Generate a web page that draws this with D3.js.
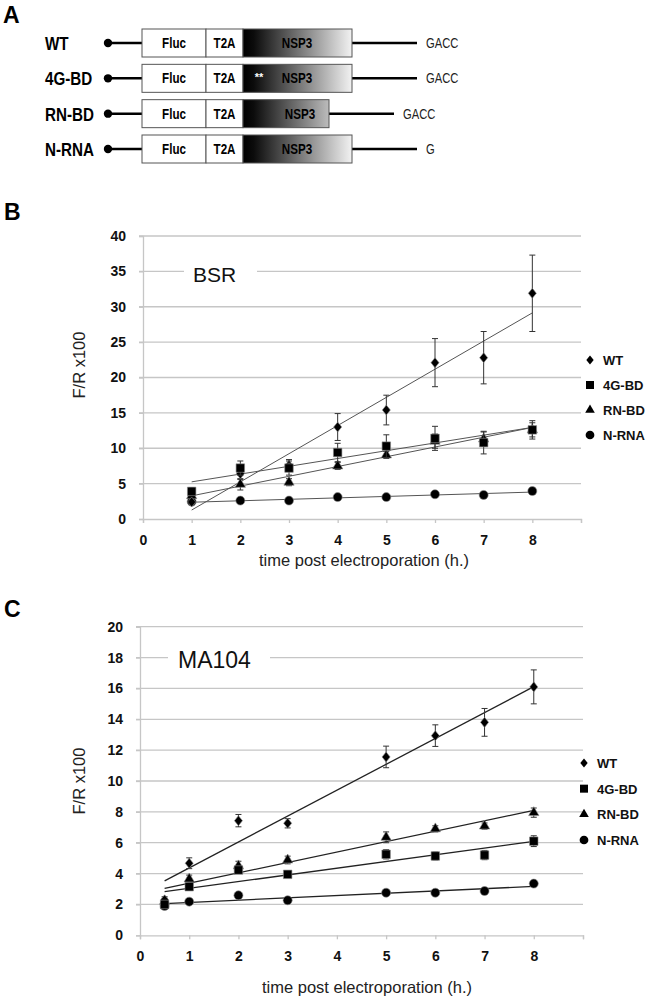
<!DOCTYPE html>
<html><head><meta charset="utf-8">
<script src="https://cdn.jsdelivr.net/npm/d3@7"></script>
<style>body{margin:0;background:#fff}svg{display:block}</style>
</head><body>
<script>
// ---------- Panel A data ----------
const constructs = ["WT", "4G-BD", "RN-BD", "N-RNA"];
const tails = ["GACC", "GACC", "GACC", "G"];
const nsp3Truncated = [false, false, true, false];
const nsp3Mutated = [false, true, false, false];
const segments = ["Fluc", "T2A", "NSP3"];

// ---------- Panel B data (BSR) ----------
const seriesNames = ["WT", "4G-BD", "RN-BD", "N-RNA"];
const bsrTimes = [1, 2, 3, 4, 5, 6, 7, 8];
const bsrWT   = [2.4, 6.4, 7.6, 13.0, 15.4, 22.1, 22.8, 31.9];
const bsr4G   = [3.9, 7.2, 7.2, 9.4, 10.3, 11.4, 10.8, 12.6];
const bsrRN   = [3.3, 4.9, 5.2, 7.5, 9.05, 11.0, 11.3, 12.6];
const bsrN    = [2.45, 2.6, 2.6, 3.1, 3.1, 3.5, 3.4, 3.95];
const bsrWTerr = [0.4, 0.8, 0.8, 1.9, 2.1, 3.4, 3.7, 5.4];
const bsr4Gerr = [0.5, 1.0, 1.0, 1.3, 1.6, 1.7, 1.6, 1.3];
const bsrRNerr = [0.3, 0.8, 0.5, 0.5, 0.5, 1.0, 1.0, 1.0];
const bsrNerr  = [0.2, 0.2, 0.2, 0.2, 0.2, 0.3, 0.3, 0.4];
const bsrYTicks = [0, 5, 10, 15, 20, 25, 30, 35, 40];

// ---------- Panel C data (MA104) ----------
const maTimes = [0.5, 1, 2, 3, 5, 6, 7, 8];
const maWT  = [2.3, 4.67, 7.43, 7.26, 11.56, 12.94, 13.8, 16.1];
const ma4G  = [2.0, 3.15, 4.23, 3.95, 5.25, 5.14, 5.2, 6.1];
const maRN  = [2.2, 3.65, 4.5, 4.88, 6.35, 6.9, 7.08, 7.95];
const maN   = [1.9, 2.18, 2.59, 2.27, 2.76, 2.76, 2.87, 3.35];
const maWTerr = [0.2, 0.35, 0.4, 0.3, 0.7, 0.7, 0.9, 1.1];
const ma4Gerr = [0.1, 0.2, 0.2, 0.2, 0.3, 0.25, 0.3, 0.35];
const maRNerr = [0.2, 0.25, 0.3, 0.25, 0.35, 0.2, 0.2, 0.3];
const maNerr  = [0.15, 0.1, 0.1, 0.1, 0.1, 0.1, 0.1, 0.1];
const maYTicks = [0, 2, 4, 6, 8, 10, 12, 14, 16, 18, 20];

const xTicks = [0, 1, 2, 3, 4, 5, 6, 7, 8, 9];
const xTickLabels = ["0", "1", "2", "3", "4", "5", "6", "7", "8", ""];
const yLabel = "F/R x100";
const xLabel = "time post electroporation (h.)";

// ---------- drawing ----------
const W = 649, H = 1005;
const svg = d3.select("body").append("svg").attr("width", W).attr("height", H);
const defs = svg.append("defs");
const sans = "'Liberation Sans',Arial,sans-serif";

// condensed text helper (narrow face emulated by horizontal scaling)
function narrowText(g, x, y, t, opts) {
  return g.append("text").attr("transform", `translate(${x},${y}) scale(0.8,1)`)
    .attr("text-anchor", opts.anchor || "start").text(t)
    .attr("font-family", sans).attr("font-weight", opts.weight || "normal")
    .attr("font-size", opts.size).attr("fill", opts.fill || "#000");
}

// Panel letters
[["A", 3, 23], ["B", 4, 220], ["C", 4, 617]].forEach(([t, x, y]) =>
  svg.append("text").attr("x", x).attr("y", y).text(t)
    .attr("font-family", sans).attr("font-weight", "bold").attr("font-size", 23));

// ---------- Panel A ----------
const grad = defs.append("linearGradient").attr("id", "nspGrad")
  .attr("gradientUnits", "userSpaceOnUse").attr("x1", 243).attr("x2", 352).attr("y1", 0).attr("y2", 0);
grad.append("stop").attr("offset", 0).attr("stop-color", "#000");
grad.append("stop").attr("offset", 0.1).attr("stop-color", "#0c0c0c");
grad.append("stop").attr("offset", 1).attr("stop-color", "#f2f2f2");

const rowScale = d3.scalePoint().domain(constructs).range([43, 149]);
const segX = d3.scaleOrdinal().domain(segments).range([142, 206, 243]);
const boxEnd = 352, boxEndShort = 329, boxH = 28;

constructs.forEach((c, i) => {
  const cy = rowScale(c);
  const g = svg.append("g");
  const end = nsp3Truncated[i] ? boxEndShort : boxEnd;
  narrowText(g, 45, cy + 7, c, { weight: "bold", size: 19 });
  g.append("line").attr("x1", 108).attr("x2", segX("Fluc")).attr("y1", cy).attr("y2", cy)
    .attr("stroke", "#000").attr("stroke-width", 2.5);
  g.append("circle").attr("cx", 108).attr("cy", cy).attr("r", 4.2).attr("fill", "#000");
  g.append("line").attr("x1", end).attr("x2", end + 65).attr("y1", cy).attr("y2", cy)
    .attr("stroke", "#000").attr("stroke-width", 2.5);
  narrowText(g, end + 74, cy + 5, tails[i], { size: 14, fill: "#222" });
  const bounds = [segX("Fluc"), segX("T2A"), segX("NSP3"), end];
  segments.forEach((s, k) => {
    g.append("rect").attr("x", bounds[k]).attr("y", cy - boxH / 2)
      .attr("width", bounds[k + 1] - bounds[k]).attr("height", boxH)
      .attr("fill", s === "NSP3" ? "url(#nspGrad)" : "#fff")
      .attr("stroke", "#555").attr("stroke-width", 1);
    const tx = s === "NSP3" ? (nsp3Truncated[i] ? 300 : 297) : (bounds[k] + bounds[k + 1]) / 2;
    narrowText(g, tx, cy + 5, s, { anchor: "middle", weight: "bold", size: 14.5 });
  });
  if (nsp3Mutated[i]) {
    g.append("text").attr("x", 259).attr("y", cy + 3).attr("text-anchor", "middle").text("**")
      .attr("font-family", sans).attr("font-weight", "bold").attr("font-size", 11).attr("fill", "#fff");
  }
});

// ---------- charts ----------
const diamond = { draw(ctx, size) { const r = Math.sqrt(size / 2); ctx.moveTo(0, -r * 1.12); ctx.lineTo(r * 0.9, 0); ctx.lineTo(0, r * 1.12); ctx.lineTo(-r * 0.9, 0); ctx.closePath(); } };
const symbols = [diamond, d3.symbolSquare, d3.symbolTriangle, d3.symbolCircle];
const symSizes = [40, 72, 46, 64];
const legSizes = [34, 64, 40, 60];

function regression(xs, ys) {
  const mx = d3.mean(xs), my = d3.mean(ys);
  let sxy = 0, sxx = 0;
  xs.forEach((x, i) => { sxy += (x - mx) * (ys[i] - my); sxx += (x - mx) * (x - mx); });
  const b = sxy / sxx;
  return x => my + b * (x - mx);
}

function drawChart(cfg) {
  const x = d3.scaleLinear().domain([0, 9]).range([cfg.left, cfg.right]);
  const y = d3.scaleLinear().domain([0, cfg.yMax]).range([cfg.bottom, cfg.top]);
  const g = svg.append("g");
  g.selectAll(".grid").data(cfg.yTicks.filter(v => v > 0)).join("line")
    .attr("x1", cfg.left - 4).attr("x2", cfg.right).attr("y1", d => y(d)).attr("y2", d => y(d))
    .attr("stroke", "#c6c6c6").attr("stroke-width", 1.3);
  const ya = g.append("g").attr("transform", `translate(${cfg.left},0)`)
    .call(d3.axisLeft(y).tickValues(cfg.yTicks).tickSize(4).tickPadding(13));
  ya.select(".domain").attr("stroke", "#c6c6c6").attr("stroke-width", 1.3);
  ya.selectAll(".tick line").attr("stroke", "#c6c6c6").attr("stroke-width", 1.3);
  ya.selectAll("text").attr("font-family", sans).attr("font-weight", "bold")
    .attr("font-size", 14).attr("fill", "#111");
  const xa = g.append("g").attr("transform", `translate(0,${cfg.bottom})`)
    .call(d3.axisBottom(x).tickValues(xTicks).tickFormat((d, i) => xTickLabels[i]).tickSize(4).tickPadding(cfg.xPad));
  xa.select(".domain").attr("stroke", "#c6c6c6").attr("stroke-width", 1.3);
  xa.selectAll(".tick line").attr("stroke", "#c6c6c6").attr("stroke-width", 1.3);
  xa.selectAll("text").attr("font-family", sans).attr("font-weight", "bold")
    .attr("font-size", 14).attr("fill", "#111");
  g.append("text").attr("transform", `translate(85,${cfg.yTitleY}) rotate(-90)`)
    .attr("text-anchor", "middle").text(yLabel)
    .attr("font-family", sans).attr("font-size", 16.5).attr("fill", "#222");
  g.append("text").attr("x", cfg.xTitleX).attr("y", cfg.xTitleY).attr("text-anchor", "middle").text(xLabel)
    .attr("font-family", sans).attr("font-size", 16.5).attr("fill", "#222");
  g.append("rect").attr("x", cfg.tag.maskX).attr("y", y(cfg.tag.v) - 3).attr("width", cfg.tag.maskW)
    .attr("height", 6).attr("fill", "#fff");
  g.append("text").attr("x", cfg.tag.x).attr("y", cfg.tag.baseline).text(cfg.tag.text)
    .attr("font-family", sans).attr("font-size", cfg.tag.size).attr("fill", "#111");
  const order = [3, 2, 0, 1];
  order.forEach(si => {
    const xs = cfg.times, ys = cfg.values[si];
    const f = regression(xs, ys);
    const x0 = d3.min(xs), x1 = d3.max(xs);
    g.append("line").attr("x1", x(x0)).attr("x2", x(x1)).attr("y1", y(f(x0))).attr("y2", y(f(x1)))
      .attr("stroke", cfg.lineColor).attr("stroke-width", cfg.lineWidth);
  });
  order.forEach(si => {
    const xs = cfg.times, ys = cfg.values[si], es = cfg.errs[si];
    const sg = g.append("g");
    xs.forEach((t, i) => {
      const cx = x(t);
      sg.append("line").attr("x1", cx).attr("x2", cx).attr("y1", y(ys[i] - es[i])).attr("y2", y(ys[i] + es[i]))
        .attr("stroke", "#333").attr("stroke-width", 1);
      [ys[i] - es[i], ys[i] + es[i]].forEach(v =>
        sg.append("line").attr("x1", cx - 3).attr("x2", cx + 3).attr("y1", y(v)).attr("y2", y(v))
          .attr("stroke", "#333").attr("stroke-width", 1));
      sg.append("path").attr("d", d3.symbol().type(symbols[si]).size(symSizes[si])())
        .attr("transform", `translate(${cx},${y(ys[i])})`)
        .attr("fill", "#000").attr("stroke", "#888").attr("stroke-width", 0.6);
    });
  });
  const ly = d3.scalePoint().domain(seriesNames).range(cfg.legendY);
  seriesNames.forEach((n, si) => {
    g.append("path").attr("d", d3.symbol().type(symbols[si]).size(legSizes[si])())
      .attr("transform", `translate(${cfg.legendX},${ly(n)})`).attr("fill", "#000");
    g.append("text").attr("x", cfg.legendX + 13).attr("y", ly(n) + 5).text(n)
      .attr("font-family", sans).attr("font-weight", "bold").attr("font-size", 13).attr("fill", "#111");
  });
}

drawChart({
  left: 143, right: 581, top: 236, bottom: 519, yMax: 40, yTicks: bsrYTicks, xPad: 12,
  times: bsrTimes, values: [bsrWT, bsr4G, bsrRN, bsrN], errs: [bsrWTerr, bsr4Gerr, bsrRNerr, bsrNerr],
  yTitleY: 365, xTitleX: 364, xTitleY: 566,
  tag: { text: "BSR", v: 35, x: 193, baseline: 282, size: 21, maskX: 184, maskW: 73 },
  lineColor: "#555", lineWidth: 1,
  legendX: 590, legendY: [360, 435]
});
drawChart({
  left: 140, right: 583, top: 626.7, bottom: 935.3, yMax: 20, yTicks: maYTicks, xPad: 12,
  times: maTimes, values: [maWT, ma4G, maRN, maN], errs: [maWTerr, ma4Gerr, maRNerr, maNerr],
  yTitleY: 781, xTitleX: 367, xTitleY: 993,
  tag: { text: "MA104", v: 18, x: 178, baseline: 668, size: 23, maskX: 168, maskW: 102 },
  lineColor: "#222", lineWidth: 1.3,
  legendX: 584, legendY: [763, 840]
});
</script>
</body></html>
